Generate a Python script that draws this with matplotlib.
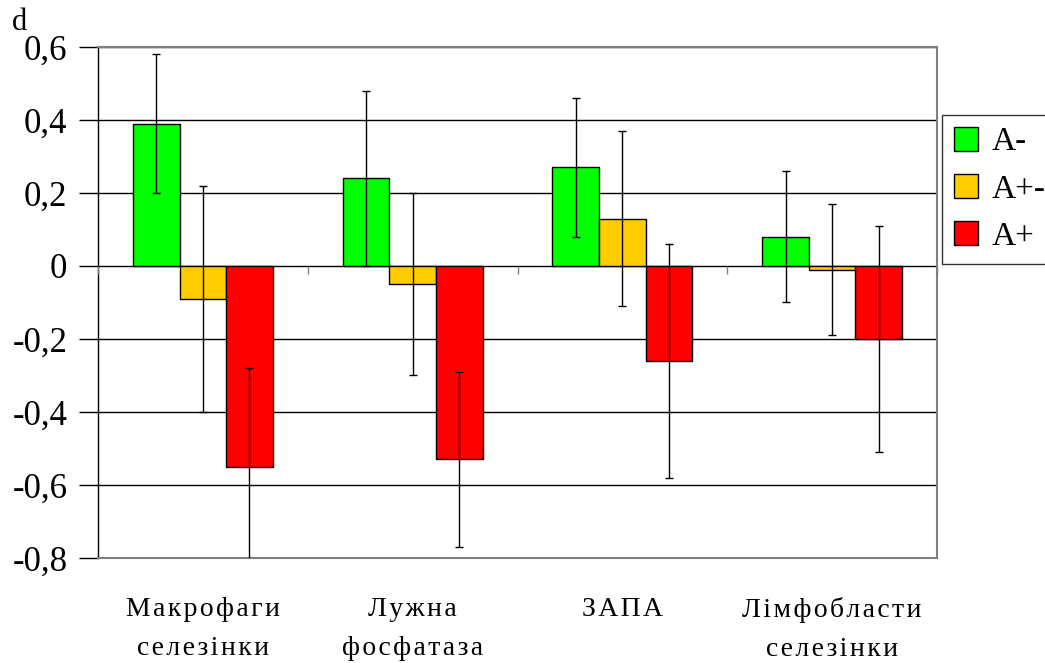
import matplotlib
matplotlib.use("Agg")
import matplotlib.pyplot as plt
import numpy as np

plt.rcParams['font.family'] = ['Liberation Serif', 'DejaVu Serif']

categories = ["Макрофаги\nселезінки", "Лужна\nфосфатаза", "ЗАПА", "Лімфобласти\nселезінки"]
series_names = ["A-", "A+-", "A+"]
green_vals = [0.39, 0.24, 0.27, 0.08]
yellow_vals = [-0.09, -0.05, 0.13, -0.01]
red_vals = [-0.55, -0.53, -0.26, -0.20]
green_err = [0.19, 0.24, 0.19, 0.18]
yellow_err = [0.31, 0.25, 0.24, 0.18]
red_err = [0.27, 0.24, 0.32, 0.31]
y_ticks = [-0.8, -0.6, -0.4, -0.2, 0, 0.2, 0.4, 0.6]
y_tick_labels = ["-0,8", "-0,6", "-0,4", "-0,2", "0", "0,2", "0,4", "0,6"]
colors = ["#00FF00", "#FFCC00", "#FF0000"]

values = [green_vals, yellow_vals, red_vals]
errors = [green_err, yellow_err, red_err]


def spaced(label):
    # widen the tracking of category names with hair spaces between letters
    return "\n".join("\u200a".join(line) for line in label.split("\n"))


fig = plt.figure(figsize=(10.45, 6.63), dpi=100)
ax = fig.add_axes([98 / 1045, 105 / 663, (937 - 98) / 1045, (558 - 47) / 663])

x = np.arange(len(categories))
w = 1 / 4.5
for i, (vals, errs, col, name) in enumerate(zip(values, errors, colors, series_names)):
    pos = x + (i - 1) * w
    ax.bar(pos, vals, width=w, color=col, edgecolor='black', linewidth=1,
           label=name, zorder=2)
    ax.errorbar(pos, vals, yerr=errs, fmt='none', ecolor='black',
                elinewidth=1, capsize=3, capthick=1, zorder=3)

ax.set_xlim(-0.5, len(categories) - 0.5)
ax.set_ylim(-0.8, 0.6)
ax.set_yticks(y_ticks)
ax.set_yticklabels(y_tick_labels, fontsize=25)
ax.grid(axis='y', color='black', linewidth=1, zorder=0)
ax.set_axisbelow(True)

ax.set_xticks(x)
ax.set_xticklabels([spaced(c) for c in categories], fontsize=20, linespacing=1.75)
ax.tick_params(axis='x', length=0, pad=28)
ax.tick_params(axis='y', length=14, width=1, pad=8, direction='out')

for side in ['top', 'right', 'bottom']:
    ax.spines[side].set_color('#808080')
    ax.spines[side].set_linewidth(1.5)
ax.spines['left'].set_color('black')
ax.spines['left'].set_linewidth(1)

# category separator ticks hanging from the zero line
ax2 = ax.twiny()
ax2.set_xlim(ax.get_xlim())
ax2.xaxis.set_ticks_position('bottom')
ax2.spines['bottom'].set_position(('data', 0))
for s in ax2.spines.values():
    s.set_visible(False)
ax2.set_xticks(np.arange(len(categories) + 1) - 0.5)
ax2.set_xticklabels([])
ax2.tick_params(axis='x', length=6, width=1, color='#808080', direction='out')

leg = ax.legend(loc='upper left', bbox_to_anchor=(942 / 1045, 1 - 115 / 663),
                bbox_transform=fig.transFigure, fontsize=24, frameon=True,
                fancybox=False, edgecolor='black', handlelength=0.73,
                handleheight=0.73, handletextpad=0.4, labelspacing=0.5,
                borderpad=0.35, borderaxespad=0)
leg.get_frame().set_linewidth(1)

fig.text(12 / 1045, 1 - 30 / 663, "d", fontsize=22, va='baseline', ha='left')

fig.savefig("out.png", dpi=100)
